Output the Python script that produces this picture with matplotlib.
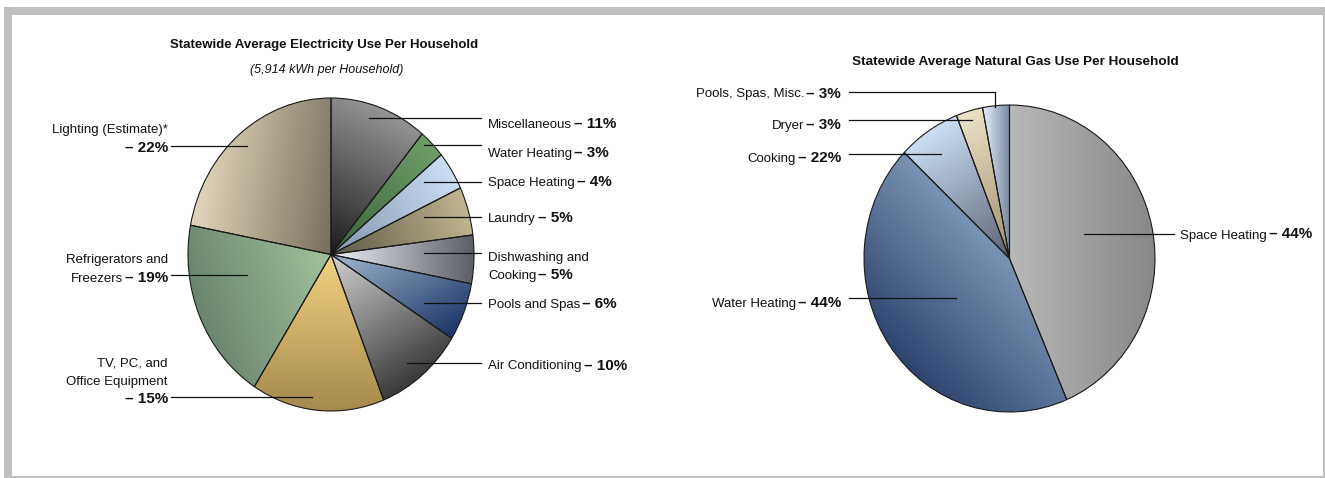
import numpy as np
import matplotlib
matplotlib.use('Agg')
import matplotlib.pyplot as plt
from matplotlib.lines import Line2D
from matplotlib.patches import Rectangle
from matplotlib.colors import to_rgb

plt.rcParams['font.family'] = ['Liberation Sans', 'DejaVu Sans']

W, H = 1325, 478

# ---- data ----
elec_labels = ['Miscellaneous', 'Water Heating', 'Space Heating', 'Laundry',
               'Dishwashing and\nCooking', 'Pools and Spas', 'Air Conditioning',
               'TV, PC, and\nOffice Equipment\n', 'Refrigerators and\nFreezers',
               'Lighting (Estimate)*\n']
elec_pct = [11, 3, 4, 5, 5, 6, 10, 15, 19, 22]

gas_labels = ['Space Heating', 'Water Heating', 'Cooking', 'Dryer', 'Pools, Spas, Misc.']
gas_pct = [44, 44, 22, 3, 3]      # printed in the labels
gas_share = [44, 44, 7, 3, 3]     # slice sizes as drawn

# ---- styles: (light, dark, gradient direction in degrees) ----
elec_shades = [
    ('#959595', '#1c1c1c', 245),
    ('#6e9e6a', '#3a6238', 225),
    ('#cddff4', '#8294ac', 210),
    ('#c2b690', '#5c5846', 200),
    ('#eef1f7', '#5a5e64', 0),
    ('#a2b8d0', '#1a3264', 300),
    ('#d2d2d2', '#383838', 300),
    ('#f4d282', '#a4884c', 270),
    ('#a2c29c', '#6a846e', 200),
    ('#e2d6ba', '#766e5e', -10),
]
gas_shades = [
    ('#b8b8b8', '#868686', 0),
    ('#7a94b4', '#2c426e', 225),
    ('#cddff4', '#5a6272', 300),
    ('#eee2c6', '#9e8e6c', 300),
    ('#eaf0fa', '#7686a0', 0),
]

fig = plt.figure(figsize=(W / 100, H / 100), dpi=100)


def fx(x):
    return x / W


def fy(y):
    return 1 - y / H


# frame
for (x0, y0, x1, y1) in [(4, 7, 1325, 15), (4, 7, 12, 478), (1323, 7, 1325, 478), (4, 475.5, 1325, 478)]:
    fig.add_artist(Rectangle((fx(x0), fy(y1)), (x1 - x0) / W, (y1 - y0) / H,
                             transform=fig.transFigure, facecolor='#c0c0c0', edgecolor='none', zorder=0))


def shade(ax, wedge, c1, c2, ang):
    verts = wedge.get_path().vertices
    d = np.array([np.cos(np.radians(ang)), np.sin(np.radians(ang))])
    proj = verts @ d
    lo, hi = proj.min(), proj.max()
    xs = np.linspace(-1.05, 1.05, 400)
    X, Y = np.meshgrid(xs, xs)
    t = np.clip((X * d[0] + Y * d[1] - lo) / (hi - lo), 0, 1)[..., None]
    img = (1 - t) * np.array(to_rgb(c1)) + t * np.array(to_rgb(c2))
    im = ax.imshow(img, extent=(-1.05, 1.05, -1.05, 1.05), origin='lower',
                   aspect='auto', zorder=1, interpolation='bilinear')
    im.set_clip_path(wedge)


def draw_pie(cx, cy, rx, ry, shares, shades):
    m = 1.1
    ax = fig.add_axes([fx(cx - rx * m), fy(cy + ry * m), 2 * rx * m / W, 2 * ry * m / H])
    wedges, _ = ax.pie(shares, startangle=90, counterclock=False,
                       wedgeprops=dict(linewidth=0.8, edgecolor='#1a1a1a'))
    for w, (c1, c2, ang) in zip(wedges, shades):
        w.set_facecolor('none')
        w.set_zorder(3)
        w.set_clip_on(False)
        shade(ax, w, c1, c2, ang)
    ax.set_aspect('auto')
    ax.set_xlim(-m, m)
    ax.set_ylim(-m, m)
    ax.axis('off')
    return ax


draw_pie(331, 254.5, 143, 156.5, elec_pct, elec_shades)
draw_pie(1009.5, 258.5, 145.5, 153.5, gas_share, gas_shades)

renderer = fig.canvas.get_renderer()
REG = dict(fontsize=9.5, color='#111111')
BOLD = dict(fontsize=11, fontweight='bold', color='#111111')
LSP = 18.5


def label(x, y, text, pct, align):
    lines = text.split('\n')
    for k, line in enumerate(lines[:-1]):
        fig.text(fx(x), fy(y - LSP * (len(lines) - 1 - k)), line, ha=align, va='baseline', **REG)
    last = lines[-1]
    bold = '\u2013 %d%%' % pct
    if align == 'left':
        px = x
        if last:
            t = fig.text(fx(x), fy(y), last, ha='left', va='baseline', **REG)
            px = t.get_window_extent(renderer).x1 + 2
        fig.text(px / W, fy(y), bold, ha='left', va='baseline', **BOLD)
    else:
        t = fig.text(fx(x), fy(y), bold, ha='right', va='baseline', **BOLD)
        if last:
            fig.text((t.get_window_extent(renderer).x0 - 2) / W, fy(y), last,
                     ha='right', va='baseline', **REG)


def leader(xs, ys):
    fig.add_artist(Line2D([fx(v) for v in xs], [fy(v) for v in ys], transform=fig.transFigure,
                          color='#111111', lw=0.9, zorder=5))


# label layout (pixels): text x, text baseline, align, leader polyline
elec_layout = [
    (488, 128, 'left', [481, 369], [117.7, 117.7]),
    (488, 157, 'left', [481, 424], [145, 145]),
    (488, 186, 'left', [481, 424], [181.7, 181.7]),
    (488, 222.5, 'left', [481, 424], [217, 217]),
    (488, 279, 'left', [481, 424], [252.7, 252.7]),
    (488, 308, 'left', [481, 424], [302.7, 302.7]),
    (488, 369.5, 'left', [481, 407], [362.7, 362.7]),
    (168, 403, 'right', [171, 312], [396.7, 396.7]),
    (168, 281.5, 'right', [171, 247], [275, 275]),
    (168, 151.5, 'right', [171, 247], [145.7, 145.7]),
]
for name, pct, (x, y, al, lx, ly) in zip(elec_labels, elec_pct, elec_layout):
    label(x, y, name, pct, al)
    leader(lx, ly)

gas_layout = [
    (1180, 238.5, 'left', [1174, 1084], [234.3, 234.3]),
    (841, 307, 'right', [849, 956], [298.3, 298.3]),
    (841, 162.5, 'right', [849, 941], [154, 154]),
    (841, 129, 'right', [849, 972], [120, 120]),
    (841, 97.5, 'right', [849, 995, 995], [91.7, 91.7, 106.5]),
]
for name, pct, (x, y, al, lx, ly) in zip(gas_labels, gas_pct, gas_layout):
    label(x, y, name, pct, al)
    leader(lx, ly)

# titles
fig.text(fx(324), fy(45), 'Statewide Average Electricity Use Per Household', ha='center', va='center',
         fontsize=9.5, fontweight='bold', color='#111111')
fig.text(fx(327), fy(70.5), '(5,914 kWh per Household)', ha='center', va='center',
         fontsize=9, fontstyle='italic', color='#111111')
fig.text(fx(1015), fy(62), 'Statewide Average Natural Gas Use Per Household', ha='center', va='center',
         fontsize=9.7, fontweight='bold', color='#111111')

fig.savefig('out.png', dpi=100, facecolor='white')
